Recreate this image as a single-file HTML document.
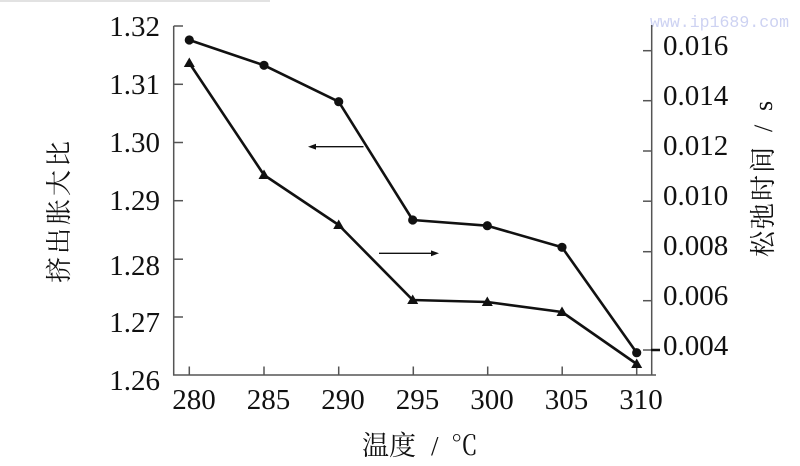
<!DOCTYPE html>
<html>
<head>
<meta charset="utf-8">
<style>
html,body{margin:0;padding:0;background:#fff;}
svg{display:block;}
.t{font-family:"Liberation Serif","Noto Serif CJK SC",serif;fill:#111;}
.c{font-family:"Liberation Serif","Noto Serif CJK SC","Noto Sans CJK SC",serif;fill:#111;}
</style>
</head>
<body>
<svg width="800" height="466" viewBox="0 0 800 466" xmlns="http://www.w3.org/2000/svg">
<rect width="800" height="466" fill="#fff"/>
<rect x="0" y="0" width="270" height="2" fill="#e2e2e2"/>
<text x="650" y="27" font-family="Liberation Mono, monospace" font-size="17" fill="#cdd2f2" textLength="139" lengthAdjust="spacingAndGlyphs">www.ip1689.com</text>

<g stroke="#555" stroke-width="1.5" fill="none">
  <line x1="173.7" y1="26" x2="173.7" y2="375.5"/>
  <line x1="173" y1="375" x2="656" y2="375"/>
  <line x1="651.7" y1="25" x2="651.7" y2="375.5"/>
  <line x1="173.7" y1="26" x2="183" y2="26"/>
  <line x1="173.7" y1="84.3" x2="183" y2="84.3"/>
  <line x1="173.7" y1="142.5" x2="183" y2="142.5"/>
  <line x1="173.7" y1="200.7" x2="183" y2="200.7"/>
  <line x1="173.7" y1="259.2" x2="183" y2="259.2"/>
  <line x1="173.7" y1="317" x2="183" y2="317"/>
  <line x1="189.3" y1="375" x2="189.3" y2="366.5"/>
  <line x1="264" y1="375" x2="264" y2="366.5"/>
  <line x1="338.7" y1="375" x2="338.7" y2="366.5"/>
  <line x1="413.3" y1="375" x2="413.3" y2="366.5"/>
  <line x1="487.7" y1="375" x2="487.7" y2="366.5"/>
  <line x1="562.2" y1="375" x2="562.2" y2="366.5"/>
  <line x1="636.7" y1="375" x2="636.7" y2="366.5"/>
  <line x1="643" y1="50.7" x2="651.7" y2="50.7"/>
  <line x1="643" y1="100.7" x2="651.7" y2="100.7"/>
  <line x1="643" y1="151" x2="651.7" y2="151"/>
  <line x1="643" y1="201.2" x2="651.7" y2="201.2"/>
  <line x1="643" y1="251.7" x2="651.7" y2="251.7"/>
  <line x1="643" y1="300.7" x2="651.7" y2="300.7"/>
  <line x1="643" y1="350" x2="651.7" y2="350"/>
</g>
<line x1="651" y1="350" x2="660" y2="350" stroke="#111" stroke-width="2.5"/>

<g class="t" font-size="29" text-anchor="end">
  <text x="160" y="36">1.32</text>
  <text x="160" y="94">1.31</text>
  <text x="160" y="152">1.30</text>
  <text x="160" y="210">1.29</text>
  <text x="160" y="275">1.28</text>
  <text x="160" y="332">1.27</text>
  <text x="160" y="390">1.26</text>
</g>
<g class="t" font-size="29" text-anchor="start">
  <text x="663" y="55">0.016</text>
  <text x="663" y="105">0.014</text>
  <text x="663" y="155">0.012</text>
  <text x="663" y="205">0.010</text>
  <text x="663" y="255">0.008</text>
  <text x="663" y="305">0.006</text>
  <text x="663" y="355">0.004</text>
</g>
<g class="t" font-size="29" text-anchor="middle">
  <text x="194" y="409">280</text>
  <text x="268.5" y="409">285</text>
  <text x="343" y="409">290</text>
  <text x="417.5" y="409">295</text>
  <text x="492" y="409">300</text>
  <text x="566.5" y="409">305</text>
  <text x="641" y="409">310</text>
</g>

<text class="c" font-size="26" letter-spacing="3" transform="translate(68,283) rotate(-90)">挤出胀大比</text>
<g transform="translate(772,257) rotate(-90)">
  <text class="c" font-size="26" letter-spacing="2" x="0" y="0">松弛时间</text>
  <text class="t" font-size="26" x="125" y="0">/</text>
  <text class="t" font-size="26" x="146" y="0">s</text>
</g>
<g>
  <text class="c" font-size="27" x="362" y="455">温度</text>
  <text class="t" font-size="27" x="431" y="455">/</text>
  <text class="c" font-size="27" x="451" y="455">℃</text>
</g>

<polyline fill="none" stroke="#111" stroke-width="2.6" stroke-linejoin="round"
  points="189.3,40 264,65.3 338.7,101.7 412.7,220 487.3,225.7 562,247.3 636.7,352.7"/>
<g fill="#111">
  <circle cx="189.3" cy="40" r="4.6"/>
  <circle cx="264" cy="65.3" r="4.6"/>
  <circle cx="338.7" cy="101.7" r="4.6"/>
  <circle cx="412.7" cy="220" r="4.6"/>
  <circle cx="487.3" cy="225.7" r="4.6"/>
  <circle cx="562" cy="247.3" r="4.6"/>
  <circle cx="636.7" cy="352.7" r="4.6"/>
</g>

<polyline fill="none" stroke="#111" stroke-width="2.6" stroke-linejoin="round"
  points="189.3,63 264,175 338.7,225 412.7,300 487.3,302 562,312 636.7,364"/>
<g fill="#111">
  <polygon points="189.3,57.5 194.8,67 183.8,67"/>
  <polygon points="264,169.5 269.5,179 258.5,179"/>
  <polygon points="338.7,219.5 344.2,229 333.2,229"/>
  <polygon points="412.7,294.5 418.2,304 407.2,304"/>
  <polygon points="487.3,296.5 492.8,306 481.8,306"/>
  <polygon points="562,306.5 567.5,316 556.5,316"/>
  <polygon points="636.7,358.5 642.2,368 631.2,368"/>
</g>

<g stroke="#111" stroke-width="1.3">
  <line x1="363.5" y1="146.7" x2="312" y2="146.7"/>
  <line x1="379" y1="253.3" x2="434" y2="253.3"/>
</g>
<polygon points="308,146.7 316,143.8 316,149.6" fill="#111"/>
<polygon points="439,253.3 431,250.4 431,256.2" fill="#111"/>
</svg>
</body>
</html>
